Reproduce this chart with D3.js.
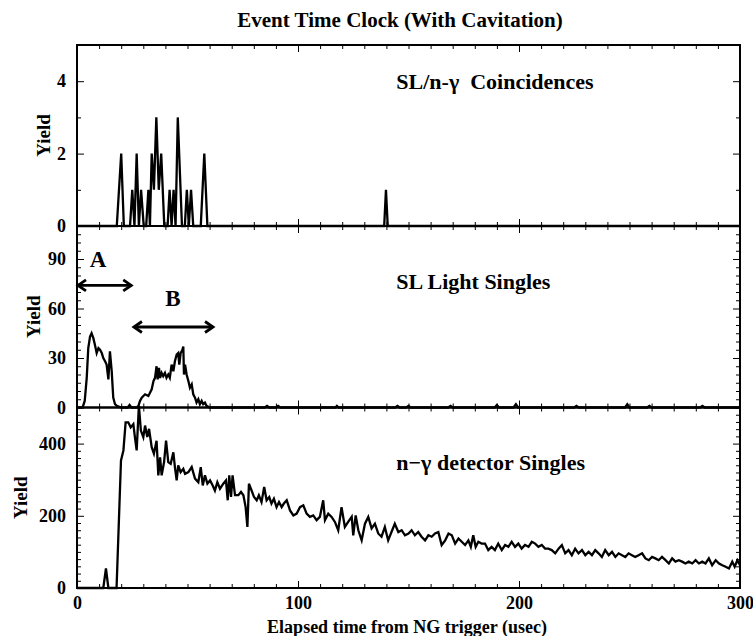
<!DOCTYPE html>
<html><head><meta charset="utf-8">
<script src="https://cdn.jsdelivr.net/npm/d3@7"></script>
<style>
body{margin:0;background:#fff;}
svg{display:block;}
text{font-family:"Liberation Serif","Times New Roman",serif;font-weight:bold;fill:#000;white-space:pre;}
</style></head>
<body>
<svg id="chart" width="753" height="636"></svg>
<script>
// ---------- data ----------
const titleText = "Event Time Clock (With Cavitation)";
const xLabelText = "Elapsed time from NG trigger (usec)";
const yLabelText = "Yield";
const xTicksMajor = [0, 100, 200, 300];

// Panel 1: SL/n-gamma coincidences (time usec, counts)
const coincT = [0,18,20,21.2,24,25,26,27,28,29,30.2,31.3,32.3,33,33.8,34.8,35.9,37,38.1,39.5,41,41.9,42.8,43.7,44.6,45.6,47.5,48.8,49.7,50.6,51.6,52.6,56,57.6,59,139,139.8,140.6,300];
const coincY = [0,0,2,0,0,1,0,2,0,1,0,0,1,0,2,1,3,1,2,0,0,1,0,1,0,3,0,0,1,0,1,0,0,2,0,0,1,0,0];

// Panel 2: SL light singles
const lightT = [0,2.5,3.5,4.4,5.1,5.9,6.6,7.4,8.1,8.9,9.7,10.4,11.2,11.9,12.7,13.4,14.2,14.9,15.7,16.4,17.2,18,20,23,23.8,24.6,27,27.8,28.5,29.3,30.8,32.3,33.8,34.6,35.3,36,36.5,37.1,37.6,38.3,39,39.8,40.5,41.3,42,42.8,43.6,44.3,45.1,45.8,46.3,46.9,47.7,48.1,48.4,48.9,49.6,50.4,51.1,51.9,52.6,53.4,54.1,54.9,55.6,56.4,57.1,57.9,58.6,60,85,86,87,90,91,92,117,117.6,118.4,144,145,146,149,150,151,168,169,170,189,190,191,197.5,198.6,199.6,225,226,227,248,249,250,258,259,260,282,283,284,300];
const lightY = [0,0,4,18,36,43,45,42,38,33,36,35,33,30,28,26,17,34,22,6,2,1,0,0,1.5,0,0,1,4,6,8,7,11,16,18,25,17,24,18,21,19,21,18,20,18,26,22,28,32,33,26,33,35,37,20,26,20,16,12,14,8,6,3,5,2,4,2,3,1,0,0,1,0,0,1,0,0,1,0,0,1,0,0,1,0,0,1,0,0,1.5,0,0,2,0,0,1,0,0,2,0,0,1,0,0,1,0,0];

// Panel 3: n-gamma detector singles
const ngT = [0,11.9,13.1,14.2,17.9,19.9,21,22,23.2,24.3,25.5,26.2,27,28,28.9,30,30.8,31.8,32.6,33.8,34.8,36,36.8,37.6,38.3,39.4,40.3,41.3,42.4,43.6,44.3,45.1,45.8,46.9,48.1,48.9,50.4,51.9,53.4,54.9,56,56.9,57.9,59,60.2,61.4,62.4,63.5,64.7,66.2,67.4,68.2,68.9,69.7,70.4,71.5,73,74.2,75.3,76.3,77.1,77.8,79,80.1,81.3,82.3,83.5,84.7,85.8,87,88,89.1,90.3,91.4,92.6,93.6,94.9,96.4,97.9,99.4,100.9,102.4,103.9,105.4,106.9,108.4,109.9,111.4,112.2,113.7,115.2,116.7,118.2,119.7,121.2,122.7,124.3,125,126.1,127.3,128.8,130.3,131.8,133.3,134.8,136.3,137.8,139.3,140.8,142.3,143.8,145.4,146.9,148.4,150,151.4,152.9,154.4,155.9,157.5,159,160.5,162,163.5,165,166.6,168.1,169.6,171.1,172.6,174.1,175.6,177.1,178.2,179.3,180.4,181.6,183.1,184.6,186.1,187.6,189.1,190.6,192.2,193.7,195.2,196.7,198.2,199.7,201.2,202.7,204.3,205.8,207.3,208.8,210.3,211.8,213.3,214.8,216.4,217.9,219.4,220.9,222.4,223.9,225.4,226.9,228.5,230,231.5,233,234.5,236,237.5,239,240.6,242.1,243.6,245.1,246.6,248.1,249.6,251.1,252.6,254.1,255.7,257.2,258.7,260.2,261.7,263.2,264.7,266.3,267.8,269.3,270.8,272.3,273.8,275.3,276.8,278.4,279.9,281.4,282.9,284.4,285.9,287.4,289,290.5,292,293.5,295,296.5,297.6,298.8,300];
const ngY = [0,0,54,0,0,353,381,459,459,445,454,418,381,505,436,418,450,418,441,390,372,408,312,362,312,349,408,349,344,376,335,298,340,321,330,316,321,335,303,293,335,284,312,289,298,284,270,293,275,289,298,243,312,252,312,257,257,266,257,224,169,289,270,252,243,257,238,280,243,252,234,247,224,238,224,234,243,215,201,206,224,229,206,197,201,188,197,243,188,206,197,183,160,224,169,183,197,146,201,160,132,178,197,165,178,151,142,169,132,155,178,155,160,146,151,160,146,155,142,132,146,142,151,155,119,132,151,146,123,137,128,119,132,114,146,114,128,123,123,105,114,105,123,105,119,114,128,114,123,109,119,114,128,123,114,119,109,109,105,96,109,119,96,105,91,109,96,105,91,100,91,105,96,86,105,91,100,86,96,91,86,96,91,86,91,96,82,77,86,82,77,86,77,68,82,73,77,73,68,73,68,77,68,73,68,82,63,77,68,63,59,54,73,59,77,63];

// Annotations (data units of the middle panel)
const arrowLabels = ["A", "B"];
const arrowStart = [0, 25.3];
const arrowEnd = [25, 62];
const arrowLevel = [74, 48.8];
const arrowLabelT = [9.5, 43.4];
const arrowLabelY = [85, 61.5];

// Panel specs
const panelNames = ["SL/n-\u03b3  Coincidences", "SL Light Singles", "n\u2212\u03b3 detector Singles"];
const panelMax = [5, 110, 500];
const panelMajor = [[0,2,4],[0,30,60,90],[0,200,400]];
const panelMinorStep = [1, 5, 20];
const panelLabelY = [3.78, 71.8, 326];

// ---------- drawing ----------
const svg = d3.select("#chart");
const L = 77, R = 740;
const bounds = [[45, 226], [226, 407.5], [407.5, 588]];
const x = d3.scaleLinear().domain([0, 300]).range([L, R]);
const xMinor = d3.range(0, 301, 10);

svg.append("text").attr("x", 400).attr("y", 27).attr("text-anchor", "middle")
  .attr("font-size", 21).text(titleText);

const series = [[coincT, coincY], [lightT, lightY], [ngT, ngY]];
const ys = [];

bounds.forEach((b, i) => {
  const y = d3.scaleLinear().domain([0, panelMax[i]]).range([b[1], b[0]]);
  ys.push(y);
  const minor = d3.range(0, panelMax[i] + 0.001, panelMinorStep[i]).filter(v => !panelMajor[i].includes(v));
  const g = svg.append("g");

  const la = g.append("g").attr("transform", `translate(${L},0)`)
    .call(d3.axisLeft(y).tickValues(panelMajor[i]).tickSize(-7).tickPadding(11).tickFormat(d3.format("d")));
  la.selectAll("text").attr("font-size", 18).style("font-family", "Liberation Serif").style("font-weight", "bold");
  g.append("g").attr("transform", `translate(${L},0)`)
    .call(d3.axisLeft(y).tickValues(minor).tickSize(-4).tickFormat(""));
  g.append("g").attr("transform", `translate(${R},0)`)
    .call(d3.axisRight(y).tickValues(panelMajor[i]).tickSize(-7).tickFormat(""));
  g.append("g").attr("transform", `translate(${R},0)`)
    .call(d3.axisRight(y).tickValues(minor).tickSize(-4).tickFormat(""));
  g.append("g").attr("transform", `translate(0,${b[0]})`)
    .call(d3.axisTop(x).tickValues(xMinor).tickSize(-4).tickFormat(""));
  g.append("g").attr("transform", `translate(0,${b[0]})`)
    .call(d3.axisTop(x).tickValues(xTicksMajor).tickSize(-7).tickFormat(""));
  g.append("g").attr("transform", `translate(0,${b[1]})`)
    .call(d3.axisBottom(x).tickValues(xMinor).tickSize(-4).tickFormat(""));
  const bxm = g.append("g").attr("transform", `translate(0,${b[1]})`);
  if (i === 2) {
    bxm.call(d3.axisBottom(x).tickValues(xTicksMajor).tickSize(-7).tickPadding(8).tickFormat(d3.format("d")));
    bxm.selectAll("text").attr("font-size", 18).style("font-family", "Liberation Serif").style("font-weight", "bold");
  } else {
    bxm.call(d3.axisBottom(x).tickValues(xTicksMajor).tickSize(-7).tickFormat(""));
  }
  g.selectAll(".domain").remove();
  g.selectAll(".tick line").attr("stroke", "#000").attr("stroke-width", 1);

  g.append("rect").attr("x", L).attr("y", b[0]).attr("width", R - L).attr("height", b[1] - b[0])
    .attr("fill", "none").attr("stroke", "#000").attr("stroke-width", 2);

  const lx = [43, 33, 20][i];
  svg.append("text").attr("transform", `translate(${lx + 7},${(b[0] + b[1]) / 2}) rotate(-90)`)
    .attr("text-anchor", "middle").attr("font-size", 19).text(yLabelText);

  svg.append("text").attr("x", x(144.5)).attr("y", y(panelLabelY[i])).attr("font-size", 22)
    .attr("xml:space", "preserve").style("white-space", "pre").text(panelNames[i]);
});

series.forEach((s, i) => {
  const pts = s[0].map((t, k) => [t, s[1][k]]);
  const line = d3.line().x(d => x(d[0])).y(d => ys[i](d[1]));
  svg.append("path").datum(pts).attr("d", line).attr("fill", "none")
    .attr("stroke", "#000").attr("stroke-width", 2.3).attr("stroke-linejoin", "miter").attr("stroke-miterlimit", 4);
});

const ym = ys[1];
arrowLabels.forEach((lab, i) => {
  const x0 = x(arrowStart[i]), x1 = x(arrowEnd[i]), yy = ym(arrowLevel[i]);
  const g = svg.append("g").attr("stroke", "#000").attr("stroke-width", 2.8).attr("fill", "none");
  g.append("line").attr("x1", x0 + 1).attr("x2", x1 - 1).attr("y1", yy).attr("y2", yy);
  g.append("path").attr("d", `M${x0 + 9},${yy - 5.5} L${x0 + 1},${yy} L${x0 + 9},${yy + 5.5}`);
  g.append("path").attr("d", `M${x1 - 9},${yy - 5.5} L${x1 - 1},${yy} L${x1 - 9},${yy + 5.5}`);
  svg.append("text").attr("x", x(arrowLabelT[i])).attr("y", ym(arrowLabelY[i]))
    .attr("text-anchor", "middle").attr("font-size", 23).text(lab);
});

svg.append("text").attr("x", 407).attr("y", 633).attr("text-anchor", "middle")
  .attr("font-size", 18).text(xLabelText);
</script>
</body></html>
